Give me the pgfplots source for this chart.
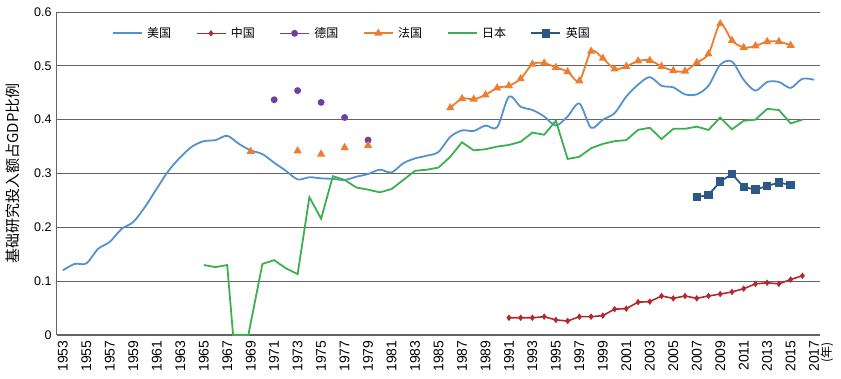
\documentclass[border=0pt]{standalone}
\usepackage{pgfplots}
\pgfplotsset{compat=1.18}
\usepackage{fontspec}
\setmainfont{Liberation Sans}
\newfontfamily\cjk{Noto Sans CJK SC}
\definecolor{usblue}{RGB}{84,146,206}
\definecolor{chred}{RGB}{178,42,48}
\definecolor{depurple}{RGB}{112,64,160}
\definecolor{frorange}{RGB}{237,125,49}
\definecolor{jpgreen}{RGB}{60,176,80}
\definecolor{ukblue}{RGB}{44,88,134}
\definecolor{gridgray}{RGB}{100,100,100}
\begin{document}
\begin{tikzpicture}
\begin{axis}[
  at={(0,0)}, anchor=south west,
  width=763pt, height=323pt, scale only axis,
  xmin=1952.5, xmax=2017.5, ymin=0, ymax=0.6,
  xtick={1953,1955,...,2017},
  ytick={0,0.1,0.2,0.3,0.4,0.5,0.6},
  yticklabels={0,0.1,0.2,0.3,0.4,0.5,0.6},
  /pgf/number format/assume math mode=true,
  /pgf/number format/1000 sep={},
  xticklabel style={rotate=90, anchor=east, font=\fontsize{14}{14}\selectfont, xshift=-2pt},
  yticklabel style={font=\fontsize{12.5}{13}\selectfont, xshift=-2pt},
  axis x line*=bottom, axis y line*=left,
  axis line style={gridgray, line width=1pt, -},
  major tick length=0pt,
  ymajorgrids,
  major grid style={gridgray, line width=0.9pt},
  unbounded coords=jump,
  clip=false,
  legend columns=6,
  legend style={draw=none, fill=none, at={(rel axis cs:0.0717,0.934)}, anchor=west,
    inner sep=0pt, nodes={inner sep=0pt},
    font=\cjk\fontsize{12}{12}\selectfont,
    /tikz/every even column/.append style={column sep=24.5pt},
    /tikz/every odd column/.append style={column sep=4.5pt}},
  legend image code/.code={\draw[mark repeat=2,mark phase=2] plot coordinates {(0pt,0pt)(14.5pt,0pt)(29pt,0pt)};},
]
% USA
\addplot[usblue, line width=1.8pt, smooth, no marks] coordinates {
(1953,0.120)(1954,0.132)(1955,0.133)(1956,0.160)(1957,0.173)(1958,0.197)(1959,0.210)
(1960,0.238)(1961,0.272)(1962,0.305)(1963,0.330)(1964,0.350)(1965,0.360)(1966,0.362)
(1967,0.370)(1968,0.355)(1969,0.343)(1970,0.336)(1971,0.320)(1972,0.305)(1973,0.289)
(1974,0.293)(1975,0.291)(1976,0.290)(1977,0.288)(1978,0.294)(1979,0.299)(1980,0.307)
(1981,0.302)(1982,0.319)(1983,0.328)(1984,0.333)(1985,0.340)(1986,0.368)(1987,0.380)
(1988,0.379)(1989,0.389)(1990,0.386)(1991,0.443)(1992,0.424)(1993,0.418)(1994,0.406)
(1995,0.389)(1996,0.406)(1997,0.430)(1998,0.385)(1999,0.400)(2000,0.412)(2001,0.443)
(2002,0.465)(2003,0.479)(2004,0.463)(2005,0.460)(2006,0.447)(2007,0.447)(2008,0.463)
(2009,0.502)(2010,0.508)(2011,0.474)(2012,0.454)(2013,0.470)(2014,0.470)(2015,0.459)
(2016,0.476)(2017,0.474)};
\addlegendentry{美国}
% China
\addplot[chred, line width=1.6pt, mark=diamond*, mark size=2pt] coordinates {
(1991,0.032)(1992,0.032)(1993,0.032)(1994,0.034)(1995,0.028)(1996,0.026)(1997,0.034)
(1998,0.034)(1999,0.036)(2000,0.048)(2001,0.049)(2002,0.061)(2003,0.062)(2004,0.0725)
(2005,0.068)(2006,0.0725)(2007,0.068)(2008,0.0725)(2009,0.076)(2010,0.080)(2011,0.086)
(2012,0.095)(2013,0.097)(2014,0.095)(2015,0.103)(2016,0.110)};
\addlegendentry{中国}
% Germany
\addplot[depurple, line width=1.6pt, mark=*, mark size=2.6pt] coordinates {
(1971,0.437)(1972,nan)(1973,0.454)(1974,nan)(1975,0.432)(1976,nan)(1977,0.404)(1978,nan)(1979,0.362)};
\addlegendentry{德国}
% France
\addplot[frorange, line width=1.8pt, smooth, mark=triangle*, mark size=3pt] coordinates {
(1969,0.341)(1970,nan)(1973,0.342)(1974,nan)(1975,0.336)(1976,nan)(1977,0.348)(1978,nan)(1979,0.352)(1980,nan)
(1986,0.422)(1987,0.439)(1988,0.438)(1989,0.446)(1990,0.459)(1991,0.463)(1992,0.476)
(1993,0.503)(1994,0.505)(1995,0.497)(1996,0.489)(1997,0.472)(1998,0.527)(1999,0.514)
(2000,0.494)(2001,0.499)(2002,0.509)(2003,0.510)(2004,0.499)(2005,0.491)(2006,0.490)
(2007,0.506)(2008,0.522)(2009,0.578)(2010,0.547)(2011,0.534)(2012,0.537)(2013,0.545)
(2014,0.545)(2015,0.538)};
\addlegendentry{法国}
% Japan
\addplot[jpgreen, line width=1.8pt, no marks] coordinates {
(1965,0.130)(1966,0.126)(1967,0.130)(1967.5,0)(1968.8,0)(1970,0.132)(1971,0.139)
(1972,0.124)(1973,0.113)(1974,0.256)(1975,0.216)(1976,0.295)(1977,0.288)(1978,0.274)
(1979,0.270)(1980,0.265)(1981,0.271)(1982,0.288)(1983,0.305)(1984,0.307)(1985,0.311)
(1986,0.331)(1987,0.358)(1988,0.343)(1989,0.345)(1990,0.350)(1991,0.353)(1992,0.359)
(1993,0.376)(1994,0.372)(1995,0.398)(1996,0.327)(1997,0.331)(1998,0.347)(1999,0.355)
(2000,0.360)(2001,0.362)(2002,0.381)(2003,0.385)(2004,0.364)(2005,0.383)(2006,0.383)
(2007,0.387)(2008,0.381)(2009,0.404)(2010,0.382)(2011,0.398)(2012,0.400)(2013,0.420)
(2014,0.418)(2015,0.393)(2016,0.400)};
\addlegendentry{日本}
% UK
\addplot[ukblue, line width=1.8pt, mark=square*, mark size=3.3pt] coordinates {
(2007,0.256)(2008,0.260)(2009,0.285)(2010,0.299)(2011,0.275)(2012,0.270)(2013,0.277)
(2014,0.283)(2015,0.279)};
\addlegendentry{英国}
\node[rotate=90, anchor=east, font=\cjk\fontsize{12}{12}\selectfont, inner sep=0pt, xshift=-7pt, yshift=-7pt] at (rel axis cs:1,0) {(年)};
\end{axis}
\node[rotate=90, font=\cjk\fontsize{15}{15}\selectfont] at (-44pt,161.5pt) {基础研究投入额占GDP比例};
\pgfresetboundingbox
\useasboundingbox (-57pt,-44pt) rectangle (784pt,335pt);
\end{tikzpicture}
\end{document}
